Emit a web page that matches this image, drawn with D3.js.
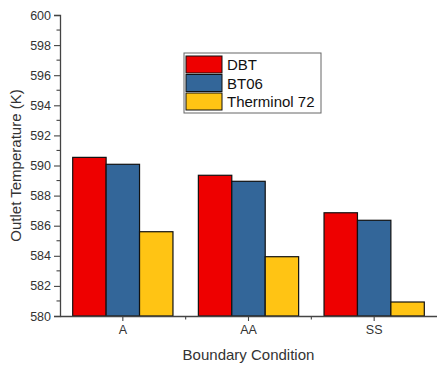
<!DOCTYPE html>
<html>
<head>
<meta charset="utf-8">
<script src="https://cdn.jsdelivr.net/npm/d3@7/dist/d3.min.js"></script>
<style>
  html, body { margin: 0; padding: 0; background: #fff; }
  svg { display: block; font-family: Arial, "Liberation Sans", sans-serif; }
</style>
</head>
<body>
<svg id="chart" width="437" height="365"></svg>
<script>
// Outlet temperature by boundary condition for three heat-transfer fluids
const categories = ["A", "AA", "SS"];
const seriesNames = ["DBT", "BT06", "Therminol 72"];
const dbt = [590.54, 589.35, 586.86];
const bt06 = [590.08, 588.95, 586.36];
const therminol72 = [585.6, 583.94, 580.93];
const yTicks = [580, 582, 584, 586, 588, 590, 592, 594, 596, 598, 600];
const colors = ["#EE0000", "#336699", "#FFC414"];

const seriesValues = [dbt, bt06, therminol72];

const svg = d3.select("#chart");
const margin = { left: 60, right: 0, top: 15, bottom: 49 };
const W = 437, H = 365;
const plotBottom = H - margin.bottom;

const x = d3.scaleBand()
  .domain(categories)
  .range([margin.left, W - margin.right])
  .paddingInner(0).paddingOuter(0);

const xInner = d3.scaleBand()
  .domain(seriesNames)
  .range([0, x.bandwidth()])
  .paddingOuter(0.38).paddingInner(0);

const y = d3.scaleLinear().domain([580, 600]).range([plotBottom, margin.top]);

// Bars
const groups = svg.append("g").selectAll("g")
  .data(categories)
  .join("g")
  .attr("transform", d => `translate(${x(d)},0)`);

groups.selectAll("rect")
  .data((c, ci) => seriesNames.map((s, si) => ({ s, si, v: seriesValues[si][ci] })))
  .join("rect")
  .attr("x", d => xInner(d.s))
  .attr("width", xInner.bandwidth())
  .attr("y", d => y(d.v))
  .attr("height", d => plotBottom - y(d.v))
  .attr("fill", d => colors[d.si])
  .attr("stroke", "#111")
  .attr("stroke-width", 1.2);

const axisColor = "#444";
const textColor = "#333";

// Y axis with major labelled ticks and unlabelled minor ticks
const yAxis = svg.append("g").attr("transform", `translate(${margin.left},0)`);
yAxis.call(d3.axisLeft(y).tickValues(yTicks).tickSize(6).tickPadding(3).tickFormat(d3.format("d")));
const yMinor = d3.range(581, 600, 2);
yAxis.selectAll(".minor").data(yMinor).join("line")
  .attr("class", "minor")
  .attr("x1", 0).attr("x2", -3.5)
  .attr("y1", d => y(d)).attr("y2", d => y(d));

// X axis with ticks at category centres and minor ticks at group boundaries
const xAxis = svg.append("g").attr("transform", `translate(0,${plotBottom})`);
xAxis.call(d3.axisBottom(x).tickSize(5).tickPadding(4).tickSizeOuter(0));
const xMinor = [x("AA"), x("SS")];
xAxis.selectAll(".minor").data(xMinor).join("line")
  .attr("class", "minor")
  .attr("y1", 0).attr("y2", 3.5)
  .attr("x1", d => d).attr("x2", d => d);

[yAxis, xAxis].forEach(a => {
  a.select(".domain").attr("stroke", axisColor).attr("stroke-width", 1.3);
  a.selectAll("line").attr("stroke", axisColor).attr("stroke-width", 1.1);
  a.selectAll("text").attr("fill", textColor).style("font-size", "12.5px")
    .style("font-family", "Arial, 'Liberation Sans', sans-serif");
});

// Axis titles
svg.append("text")
  .attr("transform", `translate(21,${(margin.top + plotBottom) / 2}) rotate(-90)`)
  .attr("text-anchor", "middle")
  .attr("fill", textColor)
  .style("font-size", "15px")
  .text("Outlet Temperature (K)");

svg.append("text")
  .attr("x", (margin.left + W) / 2)
  .attr("y", 360)
  .attr("text-anchor", "middle")
  .attr("fill", textColor)
  .style("font-size", "15px")
  .text("Boundary Condition");

// Legend
const legend = svg.append("g").attr("transform", "translate(184,53)");
legend.append("rect")
  .attr("width", 137).attr("height", 60)
  .attr("fill", "#fff").attr("stroke", "#666").attr("stroke-width", 1);
const rows = legend.selectAll("g.row").data(seriesNames).join("g")
  .attr("class", "row")
  .attr("transform", (d, i) => `translate(2,${3 + i * 18.5})`);
rows.append("rect")
  .attr("width", 36).attr("height", 17)
  .attr("fill", (d, i) => colors[i])
  .attr("stroke", "#111").attr("stroke-width", 1);
rows.append("text")
  .attr("x", 41).attr("y", 14)
  .attr("fill", "#111")
  .style("font-size", "15px")
  .text(d => d);
</script>
</body>
</html>
